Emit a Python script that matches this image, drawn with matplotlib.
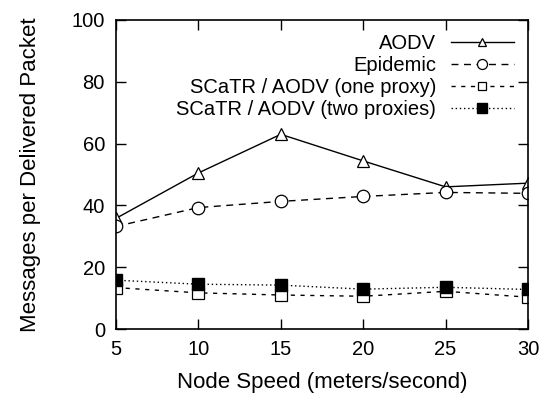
import matplotlib.pyplot as plt

plt.rcParams["font.family"] = ["Liberation Sans", "DejaVu Sans"]
plt.rcParams["font.size"] = 14.5

speed = [5, 10, 15, 20, 25, 30]
aodv = [35.8, 50.5, 63.0, 54.4, 46.0, 47.2]
epidemic = [33.2, 39.3, 41.3, 42.9, 44.2, 43.9]
one_proxy = [13.4, 11.7, 11.0, 10.6, 12.2, 10.3]
two_proxies = [15.8, 14.5, 14.2, 12.9, 13.5, 12.8]

fig = plt.figure(figsize=(5.59, 4.03), dpi=100)
ax = fig.add_axes([0.2075, 0.1836, 0.737, 0.7668])

ax.plot(speed, aodv, color="black", lw=1, marker="^", ms=8, mfc="white",
        mec="black", mew=0.9, label="AODV")
ax.plot(speed, epidemic, color="black", lw=1, ls=(0, (5, 4)), marker="o", ms=9,
        mfc="white", mec="black", mew=0.9, label="Epidemic")
ax.plot(speed, one_proxy, color="black", lw=1, ls=(0, (3, 4)), marker="s", ms=8,
        mfc="white", mec="black", mew=0.9, label="SCaTR / AODV (one proxy)")
ax.plot(speed, two_proxies, color="black", lw=1, ls=(0, (1, 2)), marker="s", ms=9,
        mfc="black", mec="black", label="SCaTR / AODV (two proxies)")

ax.set_xlim(5, 30)
ax.set_ylim(0, 100)
ax.set_xticks(speed)
ax.set_yticks([0, 20, 40, 60, 80, 100])
ax.tick_params(direction="in", top=True, right=True, length=7, width=1, pad=8)
for s in ax.spines.values():
    s.set_linewidth(1.2)

ax.set_xlabel("Node Speed (meters/second)", fontsize=16, labelpad=9)
ax.set_ylabel("Messages per Delivered Packet", fontsize=16, labelpad=22)

leg = ax.legend(loc="upper right", bbox_to_anchor=(0.965, 0.955), frameon=False,
                markerfirst=False, handlelength=3.1, labelspacing=0.15,
                borderaxespad=0, handletextpad=0.75, borderpad=0, markerscale=0.8)
for t in leg.get_texts():
    t.set_ha("right")
leg._legend_box.align = "right"

fig.savefig("out.png", dpi=100)
